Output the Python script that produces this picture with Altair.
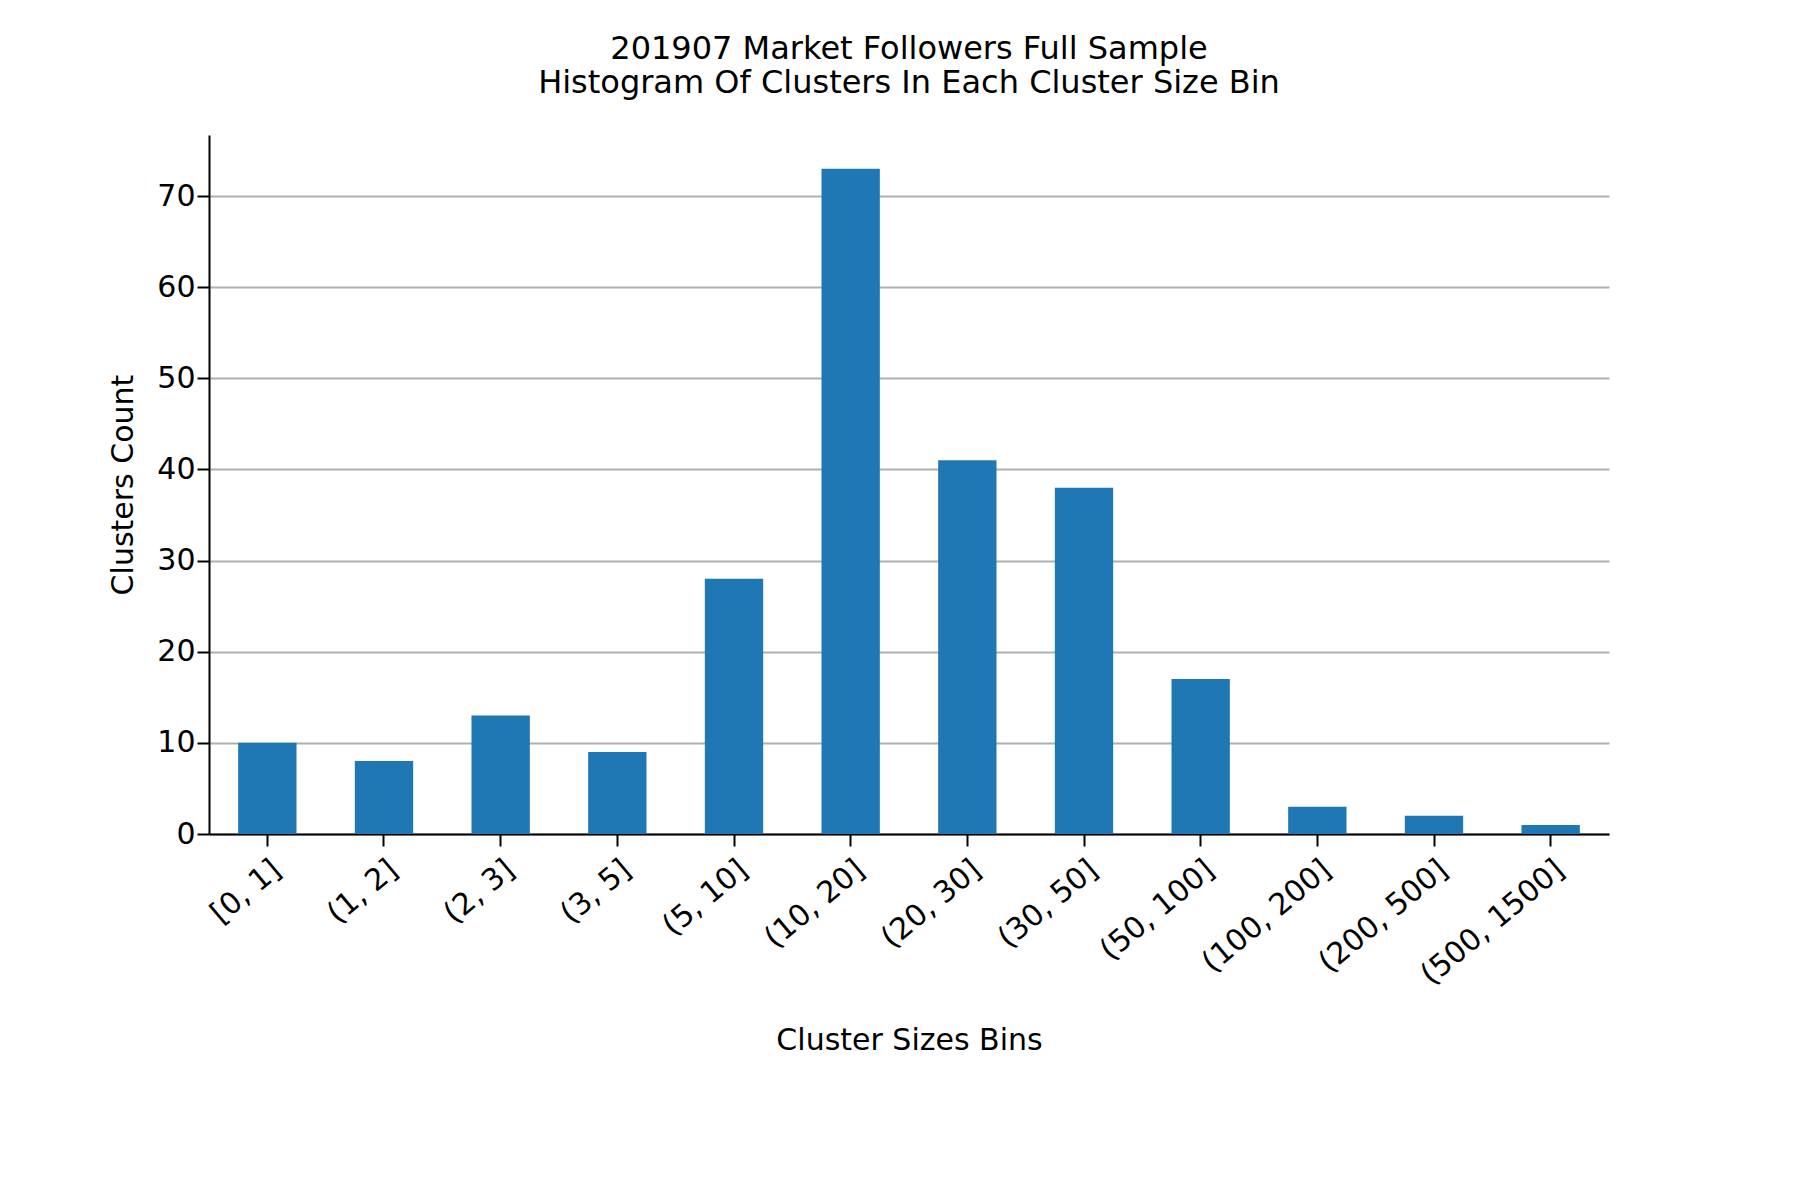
import altair as alt
import pandas as pd

bins = ["[0, 1]", "(1, 2]", "(2, 3]", "(3, 5]", "(5, 10]", "(10, 20]", "(20, 30]",
        "(30, 50]", "(50, 100]", "(100, 200]", "(200, 500]", "(500, 1500]"]
counts = [10, 8, 13, 9, 28, 73, 41, 38, 17, 3, 2, 1]

df = pd.DataFrame({"bin": bins, "count": counts})

chart = alt.Chart(df).mark_bar(color="#1f77b4").encode(
    x=alt.X("bin:N", sort=bins, title="Cluster Sizes Bins",
            scale=alt.Scale(paddingInner=0.5, paddingOuter=0.25),
            axis=alt.Axis(labelAngle=320, labelAlign="right", labelBaseline="top",
                          labelFontSize=30, titleFontSize=30, titleFontWeight="normal",
                          titlePadding=35, tickSize=12, tickWidth=2, domainWidth=2,
                          domainColor="black", tickColor="black", labelColor="black",
                          labelPadding=8)),
    y=alt.Y("count:Q", title="Clusters Count",
            scale=alt.Scale(domain=[0, 76.7], nice=False),
            axis=alt.Axis(values=[0, 10, 20, 30, 40, 50, 60, 70], grid=True,
                          gridColor="#b0b0b0", gridWidth=2,
                          labelFontSize=30, titleFontSize=30, titleFontWeight="normal",
                          titlePadding=18, tickSize=12, tickWidth=2, domainWidth=2,
                          domainColor="black", tickColor="black", labelColor="black")),
).properties(
    width=1400, height=699,
    padding={"left": 100, "top": 25, "right": 5, "bottom": 5},
    title=alt.Title(["201907 Market Followers Full Sample",
                     "Histogram Of Clusters In Each Cluster Size Bin"],
                    fontSize=32, fontWeight="normal", offset=35),
).configure(font="DejaVu Sans").configure_view(stroke=None)

chart.save("out.html", embed_options={"renderer": "svg", "actions": False})
